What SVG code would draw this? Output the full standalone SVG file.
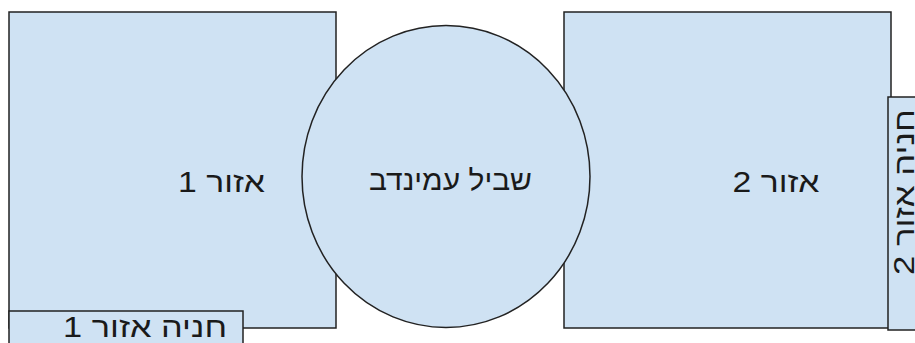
<svg xmlns="http://www.w3.org/2000/svg" width="915" height="343" viewBox="0 0 915 343">
<style>
.shape{fill:#cfe2f3;stroke:#222;stroke-width:1.5}
.lbl{font-family:"Liberation Sans",Arial,"DejaVu Sans",sans-serif;font-size:29px;fill:#1a1a1a;text-anchor:middle}
</style>
<rect width="915" height="343" fill="#fff"/>
<g id="zone1">
<rect class="shape" x="9" y="12" width="327" height="316"/>
<text class="lbl" x="221.5" y="192" direction="rtl" unicode-bidi="embed" textLength="87" lengthAdjust="spacingAndGlyphs">אזור 1</text>
</g>
<g id="zone2">
<rect class="shape" x="564" y="12" width="327" height="316"/>
<text class="lbl" x="776" y="192" direction="rtl" unicode-bidi="embed" textLength="87" lengthAdjust="spacingAndGlyphs">אזור 2</text>
</g>
<g id="path">
<ellipse class="shape" cx="446" cy="176.5" rx="144" ry="151"/>
<text class="lbl" x="450.5" y="190" direction="rtl" unicode-bidi="embed" textLength="163" lengthAdjust="spacingAndGlyphs">שביל עמינדב</text>
</g>
<g id="parking1">
<rect class="shape" x="9" y="311" width="234" height="40"/>
<text class="lbl" x="145" y="337" direction="rtl" unicode-bidi="embed" textLength="164" lengthAdjust="spacingAndGlyphs">חניה אזור 1</text>
</g>
<g id="parking2" transform="translate(888,330) rotate(-90)">
<rect class="shape" x="0" y="0" width="233" height="40"/>
<text class="lbl" x="138" y="26" direction="rtl" unicode-bidi="embed" textLength="166" lengthAdjust="spacingAndGlyphs">חניה אזור 2</text>
</g>
<g id="connectors"></g>
</svg>
